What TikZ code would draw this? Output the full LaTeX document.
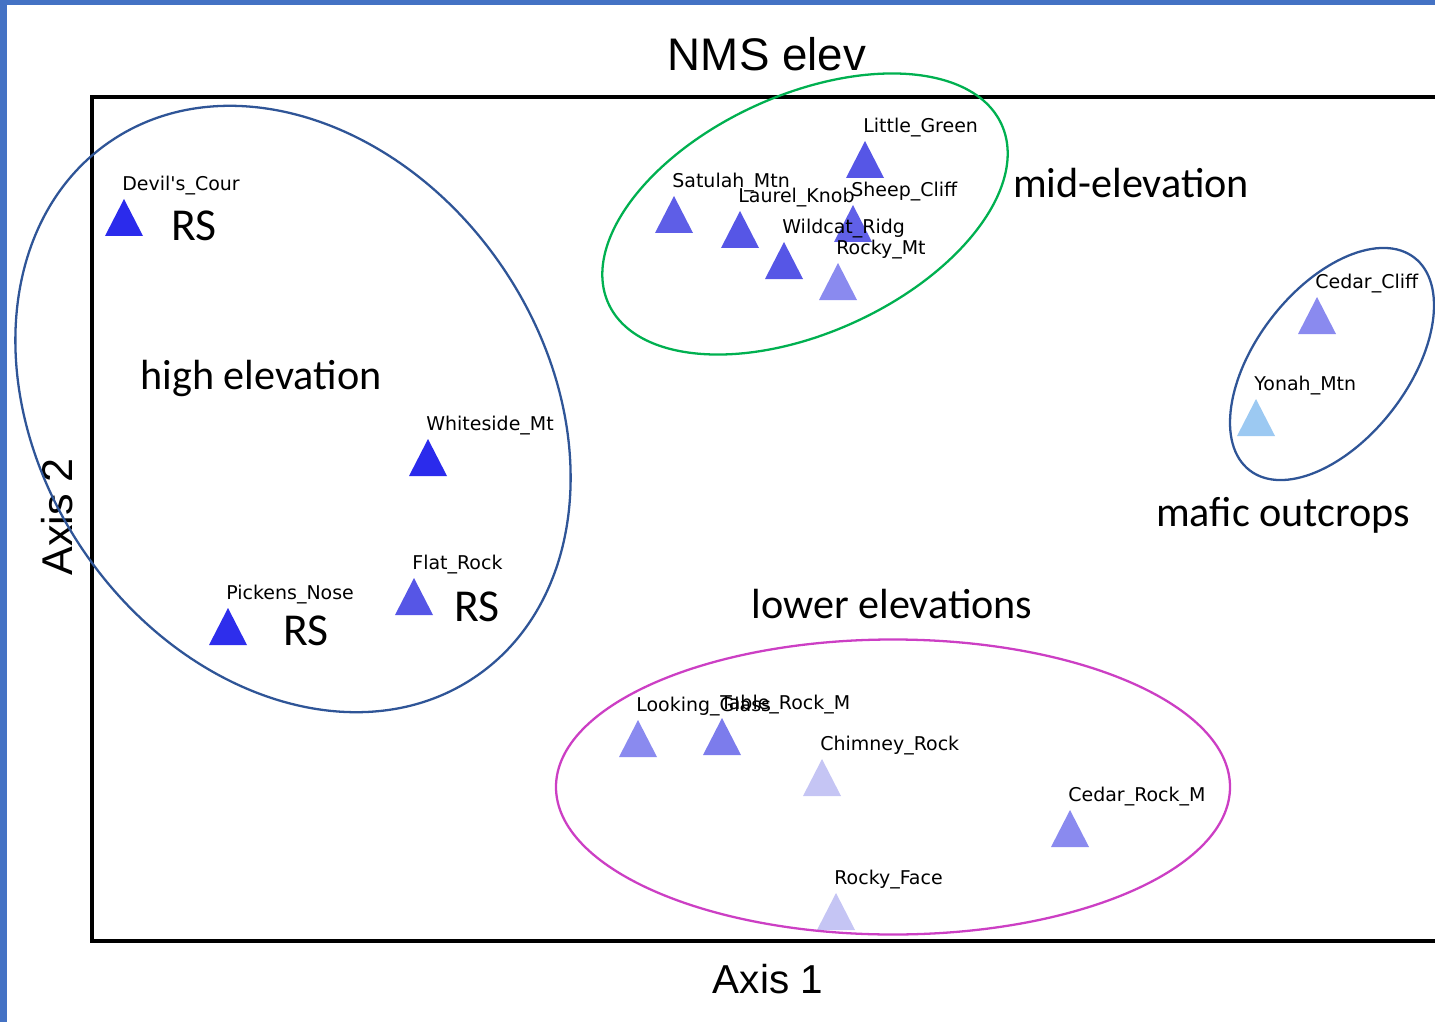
\documentclass[tikz,border=0pt]{standalone}
\usepackage{fontspec}
\setmainfont{Liberation Sans}
\newfontfamily\calib{Carlito}
\newfontfamily\dejavu{DejaVu Sans}

% ring and slide colours
\definecolor{slide}{HTML}{4472C4}
\definecolor{hiring}{HTML}{2F5597}
\definecolor{midring}{HTML}{00B050}
\definecolor{lowring}{HTML}{CC3FC4}
% marker shades, dark = high score
\definecolor{deepblue}{HTML}{2B2BEC}
\definecolor{medblue}{HTML}{5656E6}
\definecolor{tableblue}{HTML}{7C7CEC}
\definecolor{softblue}{HTML}{8A8AEF}
\definecolor{paleblue}{HTML}{C5C5F4}
\definecolor{skyblue}{HTML}{9CC9F2}

\tikzstyle{sitelab} = [anchor=west, inner sep=0pt, font=\dejavu\fontsize{10.8}{12}\selectfont]
\tikzstyle{note} = [inner sep=0pt, font=\calib\fontsize{24}{28}\selectfont]
\tikzstyle{rs} = [inner sep=0pt, font=\calib\fontsize{26}{30}\selectfont]
\tikzstyle{axislab} = [inner sep=0pt, font=\fontsize{23}{27}\selectfont]
\tikzstyle{ring} = [line width=1.3pt]

% marker: name, apex x, apex y, colour
\newcommand{\marker}[4]{%
  \fill[#4] (#2,#3) -- ++(19,37) -- ++(-38,0) -- cycle;
  \coordinate (#1) at (#2,#3);
}
% site name above a marker
\newcommand{\sitename}[2]{%
  \node[sitelab] (#1-lab) at ([shift={(-2,-13)}]#1) {#2};
}

\begin{document}
\begin{tikzpicture}[x=0.2mm, y=-0.2mm, line join=miter]
    \useasboundingbox (0,0) rectangle (1435,1022);
    \fill[slide] (0,0) rectangle (1435,5);
    \fill[slide] (0,0) rectangle (7,1022);

    % plot frame, open at the right
    \draw[line width=2pt] (1435,97) -- (92,97) -- (92,941) -- (1435,941);

    \node[font=\fontsize{26}{30}\selectfont, inner sep=0pt] (title) at (767,54) {NMS elev};
    \node[axislab] (ax1) at (768,979) {Axis 1};
    \node[axislab, font=\fontsize{24.5}{28}\selectfont, rotate=90] (ax2) at (57,517) {Axis 2};

    % markers
    \marker{devil}{124}{199}{deepblue}
    \marker{white}{428}{439}{deepblue}
    \marker{pick}{228}{608}{deepblue!92!medblue}
    \marker{flat}{414}{578}{medblue}
    \marker{satu}{674}{196}{medblue!85!softblue}
    \marker{laurel}{740}{211}{medblue}
    \marker{little}{865}{141}{medblue}
    \marker{sheep}{853}{205}{medblue!80!softblue}
    \marker{wild}{784}{242}{medblue}
    \marker{rockymt}{838}{263}{softblue}
    \marker{cliff}{1317}{297}{softblue}
    \marker{yonah}{1256}{399}{skyblue}
    \marker{glass}{638}{720}{softblue}
    \marker{table}{722}{718}{tableblue}
    \marker{chim}{822}{759}{paleblue}
    \marker{cedar}{1070}{810}{softblue}
    \marker{face}{836}{893}{paleblue}

    \sitename{devil}{Devil\textquotesingle s\_Cour}
    \sitename{white}{Whiteside\_Mt}
    \sitename{pick}{Pickens\_Nose}
    \sitename{flat}{Flat\_Rock}
    \sitename{satu}{Satulah\_Mtn}
    \sitename{laurel}{Laurel\_Knob}
    \sitename{little}{Little\_Green}
    \sitename{sheep}{Sheep\_Cliff}
    \sitename{wild}{Wildcat\_Ridg}
    \sitename{rockymt}{Rocky\_Mt}
    \sitename{cliff}{Cedar\_Cliff}
    \sitename{yonah}{Yonah\_Mtn}
    \sitename{glass}{Looking\_Glass}
    \sitename{table}{Table\_Rock\_M}
    \sitename{chim}{Chimney\_Rock}
    \sitename{cedar}{Cedar\_Rock\_M}
    \sitename{face}{Rocky\_Face}

    % groups
    \coordinate (hic) at (293,409);
    \coordinate (midc) at (805,214);
    \coordinate (mafc) at (1332,364);
    \coordinate (lowc) at (893,787);
    \draw[ring, hiring] (hic) ellipse [x radius=6.48cm, y radius=5.06cm, rotate=-55.6];
    \draw[ring, midring] (midc) ellipse [x radius=4.32cm, y radius=2.38cm, rotate=24.5];
    \draw[ring, hiring] (mafc) ellipse [x radius=2.69cm, y radius=1.52cm, rotate=52.2];
    \draw[ring, lowring] (lowc) ellipse [x radius=6.74cm, y radius=2.95cm];

    \node[note] (high) at (261,378) {high elevation};
    \node[note] (mid) at (1131,183) {mid-elevation};
    \node[note] (mafic) at (1283,515) {mafic outcrops};
    \node[note] (lower) at (892,604) {lower elevations};
    \node[rs] (rs1) at (194,226) {RS};
    \node[rs] (rs2) at (306,631) {RS};
    \node[rs] (rs3) at (477,607) {RS};
\end{tikzpicture}
\end{document}
